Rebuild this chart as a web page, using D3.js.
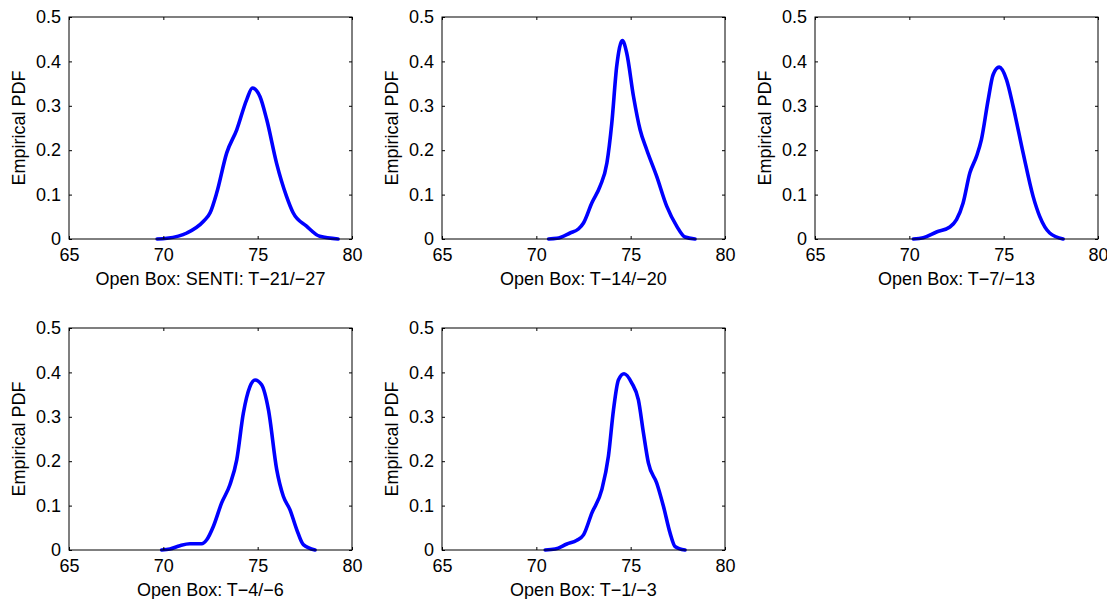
<!DOCTYPE html>
<html>
<head>
<meta charset="utf-8">
<script src="https://cdn.jsdelivr.net/npm/d3@7"></script>
<style>
  body { margin: 0; background: #fff; }
  svg text { font-family: "Liberation Sans", Arial, Helvetica, sans-serif; fill: #000; }
</style>
</head>
<body>
<div id="chart"></div>
<script>
(function () {
"use strict";

// panel titles (x labels)
var panelLabels = [
    "Open Box: SENTI: T\u221221/\u221227",
    "Open Box: T\u221214/\u221220",
    "Open Box: T\u22127/\u221213",
    "Open Box: T\u22124/\u22126",
    "Open Box: T\u22121/\u22123"
];

var xTicks = [65, 70, 75, 80],
    yTicks = [0, 0.1, 0.2, 0.3, 0.4, 0.5],
    yTickLabels = ["0", "0.1", "0.2", "0.3", "0.4", "0.5"];

// x values and pdf values per panel
var pdfX1 = [69.67, 70.19, 71.25, 72.13, 72.48, 72.83, 73.36, 73.89, 74.42, 74.72, 75.12, 75.48, 76.00, 76.53, 76.88, 77.59, 78.29, 79.26];
var pdfY1 = [0, 0.0015, 0.0135, 0.040, 0.059, 0.104, 0.194, 0.246, 0.314, 0.340, 0.321, 0.269, 0.171, 0.096, 0.059, 0.029, 0.006, 0];

var pdfX2 = [70.65, 71.09, 71.79, 72.23, 72.50, 72.94, 73.38, 73.74, 74.00, 74.26, 74.56, 74.79, 75.15, 75.50, 75.85, 76.38, 76.91, 77.44, 77.88, 78.41];
var pdfY2 = [0, 0.0015, 0.0135, 0.0225, 0.036, 0.081, 0.119, 0.171, 0.261, 0.389, 0.447, 0.419, 0.321, 0.246, 0.201, 0.141, 0.074, 0.029, 0.0045, 0];

var pdfX3 = [70.21, 70.74, 71.44, 72.15, 72.50, 72.85, 73.21, 73.56, 73.82, 74.18, 74.44, 74.76, 75.15, 75.50, 76.03, 76.56, 76.91, 77.44, 78.15];
var pdfY3 = [0, 0.003, 0.0158, 0.027, 0.0435, 0.081, 0.149, 0.186, 0.224, 0.314, 0.370, 0.387, 0.359, 0.299, 0.194, 0.096, 0.051, 0.0135, 0];

var pdfX4 = [69.91, 70.35, 70.88, 71.41, 72.03, 72.30, 72.65, 73.09, 73.53, 73.89, 74.24, 74.59, 74.86, 75.21, 75.57, 76.01, 76.36, 76.71, 77.07, 77.42, 78.04];
var pdfY4 = [0, 0.0022, 0.0097, 0.014, 0.014, 0.023, 0.053, 0.106, 0.147, 0.203, 0.308, 0.368, 0.383, 0.372, 0.316, 0.181, 0.121, 0.091, 0.046, 0.012, 0];

var pdfX5 = [70.47, 71.00, 71.62, 72.15, 72.50, 72.94, 73.47, 73.82, 74.09, 74.35, 74.65, 75.06, 75.41, 75.68, 75.94, 76.38, 76.74, 77.09, 77.35, 77.88];
var pdfY5 = [0, 0.0022, 0.0135, 0.022, 0.034, 0.083, 0.136, 0.211, 0.316, 0.383, 0.397, 0.376, 0.338, 0.263, 0.196, 0.151, 0.098, 0.038, 0.008, 0];

var allX = [pdfX1, pdfX2, pdfX3, pdfX4, pdfX5],
    allY = [pdfY1, pdfY2, pdfY3, pdfY4, pdfY5];

// layout
var width = 1107,
    height = 599,
    colLeft = [69, 442, 815],
    rowTop = [17, 328],
    boxW = 283,
    boxH = 222,
    tickLen = 3,
    fontSize = 18;

var svg = d3.select("#chart").append("svg")
    .attr("width", width)
    .attr("height", height);

var x = d3.scaleLinear().domain([65, 80]).range([0, boxW]);
var y = d3.scaleLinear().domain([0, 0.5]).range([boxH, 0]);

var line = d3.line()
    .x(function (d) { return x(d[0]); })
    .y(function (d) { return y(d[1]); })
    .curve(d3.curveMonotoneX);

panelLabels.forEach(function (label, i) {
    var px = colLeft[i % 3],
        py = rowTop[Math.floor(i / 3)];

    var g = svg.append("g")
        .attr("transform", "translate(" + px + "," + py + ")");

    // curve
    var pts = allX[i].map(function (v, k) { return [v, allY[i][k]]; });
    g.append("path")
        .datum(pts)
        .attr("fill", "none")
        .attr("stroke", "#0000ff")
        .attr("stroke-width", 3.6)
        .attr("stroke-linejoin", "round")
        .attr("stroke-linecap", "round")
        .attr("d", line);

    // axes, ticks inward on all four sides
    var bottom = g.append("g")
        .attr("transform", "translate(0," + boxH + ")")
        .call(d3.axisBottom(x).tickValues(xTicks).tickSizeInner(-tickLen).tickSizeOuter(0).tickPadding(9).tickFormat(d3.format("d")));
    var top = g.append("g")
        .call(d3.axisTop(x).tickValues(xTicks).tickSizeInner(-tickLen).tickSizeOuter(0).tickFormat(""));
    var left = g.append("g")
        .call(d3.axisLeft(y).tickValues(yTicks).tickSizeInner(-tickLen).tickSizeOuter(0).tickPadding(8)
            .tickFormat(function (d, k) { return yTickLabels[k]; }));
    var right = g.append("g")
        .attr("transform", "translate(" + boxW + ",0)")
        .call(d3.axisRight(y).tickValues(yTicks).tickSizeInner(-tickLen).tickSizeOuter(0).tickFormat(""));

    [bottom, top, left, right].forEach(function (a) {
        a.select(".domain").remove();
        a.selectAll("line").attr("stroke", "#000").attr("stroke-width", 1);
        a.selectAll("text")
            .attr("font-family", "Liberation Sans, Arial, sans-serif")
            .attr("font-size", fontSize)
            .attr("fill", "#000");
    });

    // box
    g.append("rect")
        .attr("x", 0)
        .attr("y", 0)
        .attr("width", boxW)
        .attr("height", boxH)
        .attr("fill", "none")
        .attr("stroke", "#000")
        .attr("stroke-width", 1);

    // x label
    g.append("text")
        .attr("x", boxW / 2)
        .attr("y", boxH + 46)
        .attr("text-anchor", "middle")
        .attr("font-size", fontSize)
        .text(label);

    // y label
    g.append("text")
        .attr("transform", "translate(-44," + boxH / 2 + ") rotate(-90)")
        .attr("text-anchor", "middle")
        .attr("font-size", fontSize)
        .text("Empirical PDF");
});

})();
</script>
</body>
</html>
